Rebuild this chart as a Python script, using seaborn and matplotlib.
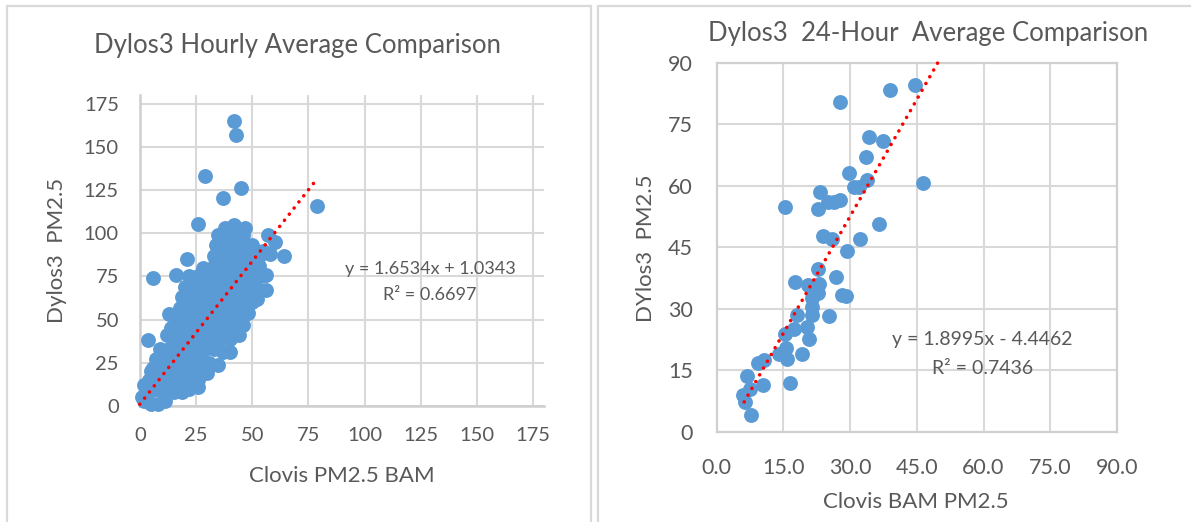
import matplotlib
matplotlib.use("Agg")
import matplotlib.pyplot as plt
from matplotlib.patches import Rectangle
import numpy as np
import pandas as pd
import seaborn as sns

# hourly points
hourly_x = [2, 5, 8, 11, 1, 3, 6, 9, 12, 15, 19, 22, 26,
            2, 4, 7, 11, 15, 19, 23, 26, 5, 6, 10, 14, 18, 22, 26, 30,
            7, 11, 15, 19, 23, 27, 31, 35, 9, 13, 17, 21, 25, 29, 33, 37, 40,
            3.5, 12, 16, 20, 24, 28, 32, 36, 40, 44, 14, 18, 22, 26, 30, 34, 38, 42, 46,
            13, 17, 21, 25, 29, 33, 37, 41, 45, 48, 18, 22, 26, 30, 34, 38, 42, 46, 50,
            19, 23, 27, 31, 35, 39, 43, 47, 52, 20, 24, 28, 32, 36, 40, 44, 48, 52, 56,
            6, 16, 22, 26, 30, 34, 38, 42, 46, 50, 54, 56, 21, 28, 33, 37, 41, 45, 49, 53,
            33, 37, 41, 45, 49, 53, 58, 64, 34, 38, 42, 46, 50, 55, 60,
            35, 39, 43, 46, 57, 38, 42, 47,
            26, 37, 45, 29, 79, 43, 42]
hourly_y = [3, 1, 1, 3, 5, 9, 9, 9, 9, 8, 8, 10, 11,
            12, 15, 15, 15, 15, 15, 15, 15, 20, 22, 21, 21, 21, 21, 21, 19,
            27, 27, 27, 27, 27, 27, 25, 24, 33, 33, 33, 33, 33, 33, 33, 31, 31,
            38, 41, 39, 39, 39, 39, 39, 39, 39, 41, 45, 45, 45, 45, 45, 45, 45, 45, 47,
            53, 51, 51, 51, 51, 51, 51, 51, 51, 54, 57, 57, 57, 57, 57, 57, 57, 57, 60,
            63, 63, 63, 63, 63, 63, 63, 63, 62, 69, 69, 69, 69, 69, 69, 69, 69, 68, 67,
            74, 76, 75, 75, 75, 75, 75, 75, 75, 75, 75, 76, 85, 80, 81, 81, 81, 81, 81, 81,
            87, 87, 87, 87, 87, 87, 88, 87, 93, 93, 93, 93, 93, 90, 95,
            99, 99, 99, 99, 99, 103, 105, 103,
            105.5, 120.5, 126, 133, 116, 157, 165]

# 24-hour points
daily_x = [44.7, 38.9, 27.7, 34.3, 37.3, 33.5, 29.8, 33.7, 46.3, 30.8, 32.1, 23.3, 27.8,
           26.3, 25.0, 15.3, 22.9, 36.4, 24.0, 26.0, 32.2, 29.3, 22.7, 26.9, 17.7, 23.1,
           20.5, 22.9, 21.4, 28.2, 29.1, 21.4, 21.4, 18.0, 25.2, 20.4, 17.3, 15.3, 20.7,
           15.7, 14.1, 19.2, 15.9, 10.7, 9.4, 16.5, 10.5, 6.8, 7.5, 6.0, 6.4, 7.8]
daily_y = [84.5, 83.3, 80.5, 72.0, 71.0, 67.0, 63.0, 61.3, 60.7, 59.8, 59.8, 58.5, 56.5,
           56.0, 56.0, 54.8, 54.3, 50.8, 47.8, 47.0, 47.0, 44.2, 39.8, 37.7, 36.6, 36.1,
           35.8, 33.8, 32.7, 33.4, 33.2, 30.5, 28.5, 28.5, 28.2, 25.6, 25.1, 23.8, 22.6,
           20.4, 18.9, 19.1, 17.7, 17.6, 16.8, 11.9, 11.5, 13.7, 10.6, 9.1, 7.2, 4.2]

# trendlines as printed on the charts
hourly_fit = (1.6534, 1.0343)
hourly_fit_range = [0.0, 77.5]
daily_fit = (1.8995, -4.4462)
daily_fit_range = [6.2, 49.7]

hourly_ticks = [0, 25, 50, 75, 100, 125, 150, 175]
daily_ticks = [0, 15, 30, 45, 60, 75, 90]
daily_xticklabels = ["0.0", "15.0", "30.0", "45.0", "60.0", "75.0", "90.0"]

W, H = 1191, 522
GREY = "#595959"
GRID = "#d9d9d9"
BLUE = "#5b9bd5"

sns.set_theme(style="white")
plt.rcParams["font.family"] = ["Lato", "DejaVu Sans"]

fig = plt.figure(figsize=(W / 100, H / 100), dpi=100)


def make_axes(x0, x1, y_bottom, y_top):
    return fig.add_axes([x0 / W, 1 - y_bottom / H, (x1 - x0) / W, (y_bottom - y_top) / H])


def put_text(x, y, s, size, rotation=0):
    fig.text(x / W, 1 - y / H, s, fontsize=size, color=GREY, ha="center", va="center", rotation=rotation)


def draw_panel(ax, xs, ys, fit, fit_range):
    df = pd.DataFrame({"x": xs, "y": ys})
    sns.scatterplot(data=df, x="x", y="y", ax=ax, color=BLUE, s=115, linewidth=0, clip_on=False, zorder=3)
    line_x = np.array(fit_range)
    ax.plot(line_x, fit[0] * line_x + fit[1], color="#ff0000", lw=2.6,
            linestyle=(0, (0.01, 2.15)), dash_capstyle="round", zorder=4, clip_on=False)
    ax.grid(True, color=GRID, lw=1.5)
    ax.set_axisbelow(True)
    ax.set(xlabel="", ylabel="")
    for s in ax.spines.values():
        s.set_visible(False)
    ax.tick_params(length=0, labelcolor=GREY)


# panel outlines
fig.add_artist(Rectangle((7 / W, -0.1), 584 / W, 1 - 6 / H + 0.1, transform=fig.transFigure,
                         fill=False, edgecolor=GRID, lw=1.6))
fig.add_artist(Rectangle((598 / W, -0.1), 700 / W, 1 - 6 / H + 0.1, transform=fig.transFigure,
                         fill=False, edgecolor=GRID, lw=1.6))

# hourly chart
ax1 = make_axes(139.8, 544.3, 406, 95)
draw_panel(ax1, hourly_x, hourly_y, hourly_fit, hourly_fit_range)
ax1.set_xlim(0, 180)
ax1.set_ylim(0, 180)
ax1.set_xticks(hourly_ticks)
ax1.set_yticks(hourly_ticks)
ax1.tick_params(axis="x", labelsize=14.5, pad=15)
ax1.tick_params(axis="y", labelsize=14.5, pad=15)
for s in ["left", "bottom"]:
    ax1.spines[s].set_visible(True)
    ax1.spines[s].set_color("#cfcfcf")
    ax1.spines[s].set_linewidth(1.8)

put_text(298, 45, "Dylos3 Hourly Average Comparison", 18.5)
put_text(342, 476, "Clovis PM2.5 BAM", 16)
put_text(57, 250, "Dylos3  PM2.5", 16, rotation=90)
put_text(430, 269, "y = 1.6534x + 1.0343", 13)
put_text(430, 295, "R² = 0.6697", 13)

# 24-hour chart
ax2 = make_axes(716.6, 1117, 432, 62.7)
draw_panel(ax2, daily_x, daily_y, daily_fit, daily_fit_range)
ax2.set_xlim(0, 90)
ax2.set_ylim(0, 90)
ax2.set_xticks(daily_ticks)
ax2.set_xticklabels(daily_xticklabels)
ax2.set_yticks(daily_ticks)
ax2.tick_params(axis="x", labelsize=15.5, pad=19)
ax2.tick_params(axis="y", labelsize=15.5, pad=17)
for s in ax2.spines.values():
    s.set_visible(True)
    s.set_color("#d0d0d0")
    s.set_linewidth(1.6)

put_text(928, 34, "Dylos3  24-Hour  Average Comparison", 18.5)
put_text(916, 502, "Clovis BAM PM2.5", 16)
put_text(646, 248, "DYlos3  PM2.5", 16, rotation=90)
put_text(982, 339, "y = 1.8995x - 4.4462", 14)
put_text(983, 369, "R² = 0.7436", 14)

fig.savefig("out.png", dpi=100)
